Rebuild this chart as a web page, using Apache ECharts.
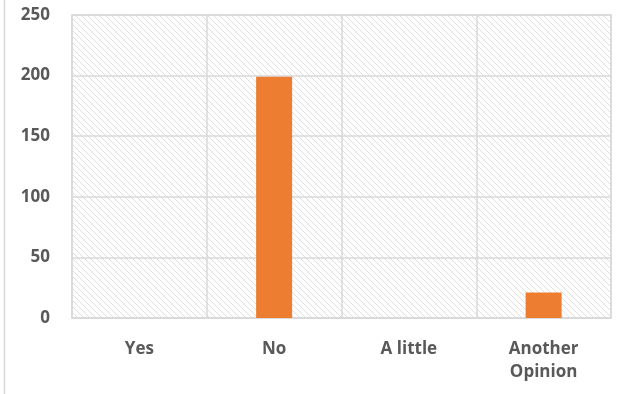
<!DOCTYPE html>
<html>
<head>
<meta charset="utf-8">
<script src="https://cdn.jsdelivr.net/npm/echarts@6/dist/echarts.min.js"></script>
<style>
html,body{margin:0;padding:0;background:#fff;}
#chart{width:634px;height:394px;}
</style>
</head>
<body>
<div id="chart"></div>
<script>
const categories = ['Yes', 'No', 'A little', 'Another\nOpinion'];
const values = [0, 199, 0, 21];
const yTicks = { min: 0, max: 250, interval: 50 };

// hatch pattern tile
const tile = document.createElement('canvas');
tile.width = 6; tile.height = 6;
const ctx = tile.getContext('2d');
ctx.fillStyle = '#ffffff';
ctx.fillRect(0, 0, 6, 6);
ctx.fillStyle = '#dedede';
for (let i = 0; i < 6; i++) { ctx.fillRect(i, i, 1, 1); }

const chart = echarts.init(document.getElementById('chart'));
chart.setOption({
  animation: false,
  backgroundColor: '#ffffff',
  grid: {
    left: 72, right: 23, top: 15, bottom: 76,
    show: true,
    backgroundColor: { image: tile, repeat: 'repeat' },
    borderColor: '#d9d9d9', borderWidth: 1.5
  },
  graphic: [{
    type: 'line', shape: { x1: 4.5, y1: 0, x2: 4.5, y2: 394 },
    style: { stroke: '#d9d9d9', lineWidth: 1.5 }
  }],
  xAxis: {
    type: 'category',
    data: categories,
    axisLine: { show: true, lineStyle: { color: '#d9d9d9', width: 1.5 } },
    axisTick: { show: false },
    splitLine: { show: true, lineStyle: { color: '#d9d9d9', width: 1.5 } },
    axisLabel: {
      color: '#595959', fontFamily: 'Open Sans', fontWeight: 'bold', fontSize: 17,
      margin: 20, lineHeight: 23
    }
  },
  yAxis: {
    type: 'value',
    min: yTicks.min, max: yTicks.max, interval: yTicks.interval,
    axisLine: { show: false },
    axisTick: { show: false },
    splitLine: { show: true, lineStyle: { color: '#d9d9d9', width: 1.5 } },
    axisLabel: {
      color: '#595959', fontFamily: 'Open Sans', fontWeight: 'bold', fontSize: 17,
      margin: 22
    }
  },
  series: [{
    type: 'bar',
    data: values,
    barWidth: 36,
    itemStyle: { color: '#ed7d31' }
  }]
});
</script>
</body>
</html>
